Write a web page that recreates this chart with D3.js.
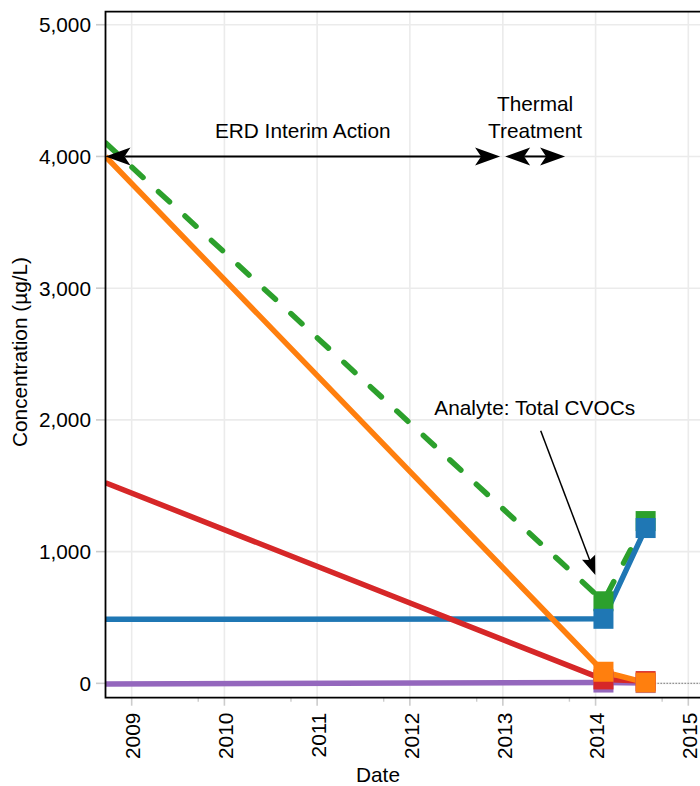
<!DOCTYPE html>
<html><head><meta charset="utf-8">
<script src="https://cdn.jsdelivr.net/npm/d3@7"></script>
<style>
body{margin:0;background:#fff}
svg{display:block}
text{font-family:"Liberation Sans",Arial,Helvetica,sans-serif;fill:#000}
</style>
</head><body>
<svg id="chart" width="700" height="786"></svg>
<script>
// ---------------- data ----------------
const sampleDates = ["2008-09-20", "2014-02-01", "2014-07-17"];
const markedFrom = "2014-01-01";            // samples drawn with square markers
const seriesNames = ["Series 1", "Series 2", "Series 3", "Series 4", "Series 5"];
const series1 = [-5, 6, 2];          // purple
const series2 = [1523, 30, 17];      // red
const series3 = [4103, 623, 1232];   // green (dashed)
const series4 = [486, 490, 1179];    // blue
const series5 = [4000, 88, 6];       // orange
const seriesColors = ["#9467bd", "#d62728", "#2ca02c", "#1f77b4", "#ff7f0e"];
const seriesDashed = [false, false, true, false, false];

const yTickValues = [0, 1000, 2000, 3000, 4000, 5000];
const xTickYears = [2009, 2010, 2011, 2012, 2013, 2014, 2015];
const xDomain = ["2008-09-20", "2015-02-16"];
const yDomain = [-109, 5099];

const periodLabels = [["ERD Interim Action"], ["Thermal", "Treatment"]];
const periodStarts = ["2008-09-20", "2013-01-10"];
const periodEnds = ["2012-12-21", "2013-09-03"];
const periodLevel = 4000;

const analyteLabel = "Analyte: Total CVOCs";
const analyteFrom = ["2013-05-30", 1918];
const analyteTo = ["2013-12-31", 822];

// ---------------- layout ----------------
const FS = 20.8;
const parse = d3.utcParse("%Y-%m-%d");
const svg = d3.select("#chart");
const L = 105.5, R = 700, T = 11.7, B = 697.7;

const x = d3.scaleUtc().domain(xDomain.map(parse)).range([L, R]);
const y = d3.scaleLinear().domain(yDomain).range([B, T]);

const allSeries = [series1, series2, series3, series4, series5].map((vals, i) => ({
  name: seriesNames[i], color: seriesColors[i], dashed: seriesDashed[i],
  points: sampleDates.map((d, j) => ({date: parse(d), value: vals[j]}))
}));

svg.append("clipPath").attr("id", "clip")
  .append("rect").attr("x", L).attr("y", T).attr("width", R - L).attr("height", B - T);

// gridlines
const grid = svg.append("g");
grid.selectAll("line.h").data(yTickValues).join("line")
  .attr("x1", L).attr("x2", R).attr("y1", d => y(d)).attr("y2", d => y(d))
  .attr("stroke", "#ebebeb").attr("stroke-width", 1.6);
const yearDates = xTickYears.map(yr => new Date(Date.UTC(yr, 0, 1)));
grid.selectAll("line.v").data(yearDates).join("line")
  .attr("x1", d => x(d)).attr("x2", d => x(d)).attr("y1", T).attr("y2", B)
  .attr("stroke", "#ebebeb").attr("stroke-width", 1.6);

// dotted zero line
svg.append("line").attr("x1", L).attr("x2", R).attr("y1", y(0)).attr("y2", y(0))
  .attr("stroke", "#8a8a8a").attr("stroke-width", 1.2).attr("stroke-dasharray", "1.4,1.6");

// y axis ticks & labels
const yAxis = svg.append("g");
yAxis.selectAll("line").data(yTickValues).join("line")
  .attr("x1", L - 9.5).attr("x2", L).attr("y1", d => y(d)).attr("y2", d => y(d))
  .attr("stroke", "#cccccc").attr("stroke-width", 1.6);
const fmt = d3.format(",");
yAxis.selectAll("text").data(yTickValues).join("text")
  .attr("x", L - 14.5).attr("y", d => y(d)).attr("dy", "0.36em")
  .attr("text-anchor", "end").attr("font-size", FS).text(d => fmt(d));

// x axis ticks & labels
const xAxis = svg.append("g");
xAxis.selectAll("line.maj").data(yearDates).join("line")
  .attr("x1", d => x(d)).attr("x2", d => x(d)).attr("y1", B).attr("y2", B + 8)
  .attr("stroke", "#cccccc").attr("stroke-width", 1.6);
const minorDates = d3.range(1, 7).map(k => d3.utcYear.offset(parse(xDomain[0]), k));
xAxis.selectAll("line.min").data(minorDates).join("line")
  .attr("x1", d => x(d)).attr("x2", d => x(d)).attr("y1", B).attr("y2", B + 4)
  .attr("stroke", "#cccccc").attr("stroke-width", 1.4);
xAxis.selectAll("text").data(yearDates).join("text")
  .attr("transform", d => `translate(${x(d)},${B + 15}) rotate(-90)`)
  .attr("dy", "0.42em").attr("text-anchor", "end").attr("font-size", FS)
  .text(d => d.getUTCFullYear());

// axis titles
svg.append("text").attr("x", 378).attr("y", 782).attr("text-anchor", "middle")
  .attr("font-size", FS).text("Date");
svg.append("text").attr("transform", "translate(27,352) rotate(-90)")
  .attr("text-anchor", "middle").attr("font-size", FS).text("Concentration (µg/L)");

// series lines
const line = d3.line().x(d => x(d.date)).y(d => y(d.value));
const plot = svg.append("g").attr("clip-path", "url(#clip)");
const drawOrder = [2, 3, 0, 1, 4];
drawOrder.forEach(i => {
  const s = allSeries[i];
  plot.append("path").datum(s.points).attr("d", line)
    .attr("fill", "none").attr("stroke", s.color).attr("stroke-width", 5.5)
    .attr("stroke-linejoin", "round")
    .attr("stroke-linecap", s.dashed ? "round" : "butt")
    .attr("stroke-dasharray", s.dashed ? "15,21" : null);
});
// markers
const markStart = parse(markedFrom);
const msize = 20;
drawOrder.forEach(i => {
  const s = allSeries[i];
  plot.selectAll(null).data(s.points.filter(p => p.date >= markStart)).join("rect")
    .attr("x", d => x(d.date) - msize / 2).attr("y", d => y(d.value) - msize / 2)
    .attr("width", msize).attr("height", msize).attr("fill", s.color);
});

// panel border (left, top, bottom)
svg.append("path").attr("d", `M${R},${T}H${L}V${B}H${R}`)
  .attr("fill", "none").attr("stroke", "#000").attr("stroke-width", 1.8);

// arrows
function arrowHead(g, x1, y1, x2, y2, len, wid, notch) {
  const a = Math.atan2(y2 - y1, x2 - x1);
  const ux = Math.cos(a), uy = Math.sin(a), nx = -uy, ny = ux;
  const bx = x2 - len * ux, by = y2 - len * uy;
  const pts = [[x2, y2], [bx + nx * wid / 2, by + ny * wid / 2],
               [x2 - (len - notch) * ux, y2 - (len - notch) * uy],
               [bx - nx * wid / 2, by - ny * wid / 2]];
  g.append("path").attr("d", "M" + pts.map(p => p.join(",")).join("L") + "Z").attr("fill", "#000");
  return [x2 - (len - notch) * ux, y2 - (len - notch) * uy];
}
const ann = svg.append("g");
periodLabels.forEach((lines, i) => {
  const xa = x(parse(periodStarts[i])), xb = x(parse(periodEnds[i])), ya = y(periodLevel);
  const pa = arrowHead(ann, xb, ya, xa, ya, 25, 18, 6);
  const pb = arrowHead(ann, xa, ya, xb, ya, 25, 18, 6);
  ann.append("line").attr("x1", pa[0]).attr("x2", pb[0]).attr("y1", ya).attr("y2", ya)
    .attr("stroke", "#000").attr("stroke-width", 2);
  const cx = (xa + xb) / 2;
  lines.forEach((t, k) => {
    ann.append("text").attr("x", cx).attr("y", ya - 18 - (lines.length - 1 - k) * 27)
      .attr("text-anchor", "middle").attr("font-size", FS).text(t);
  });
});
{
  const x1 = x(parse(analyteFrom[0])), y1 = y(analyteFrom[1]);
  const x2 = x(parse(analyteTo[0])), y2 = y(analyteTo[1]);
  const p = arrowHead(ann, x1, y1, x2, y2, 19, 14, 3);
  ann.append("line").attr("x1", x1).attr("y1", y1).attr("x2", p[0]).attr("y2", p[1])
    .attr("stroke", "#000").attr("stroke-width", 1.5);
  ann.append("text").attr("x", x1 - 6).attr("y", y1 - 16)
    .attr("text-anchor", "middle").attr("font-size", FS).text(analyteLabel);
}
</script>
</body></html>
